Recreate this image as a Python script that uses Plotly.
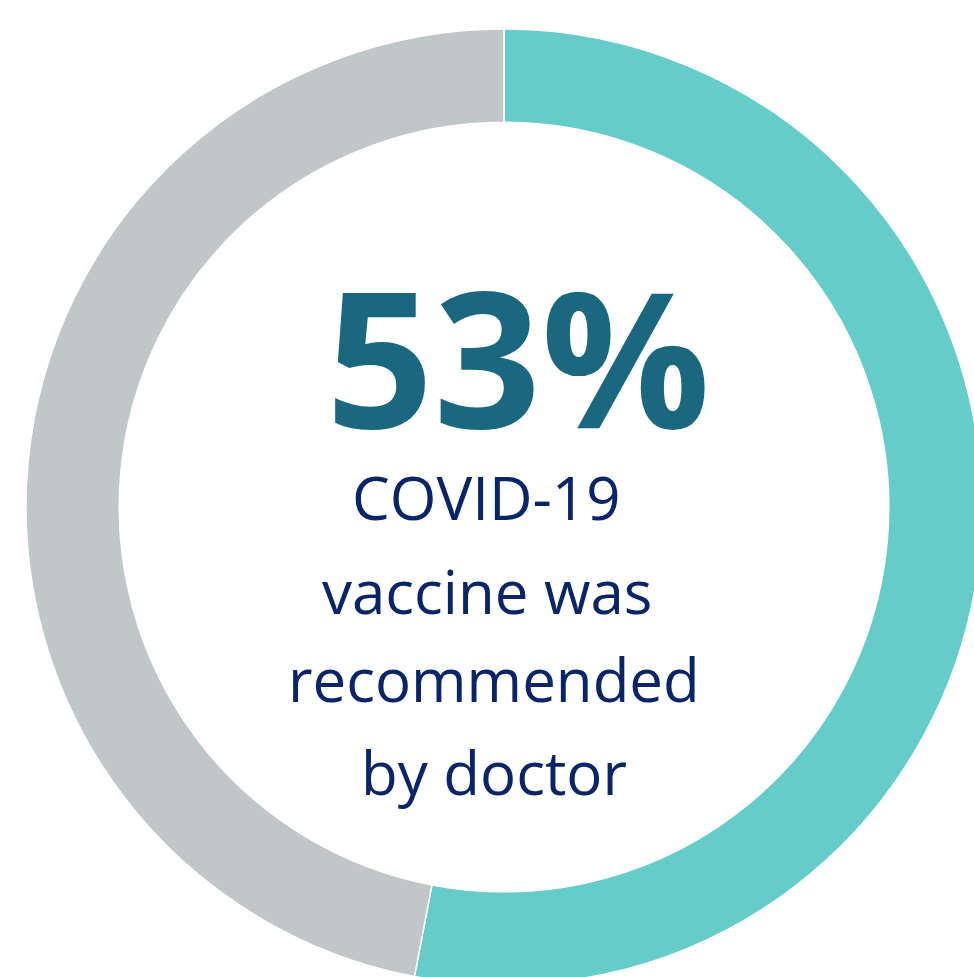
import plotly.graph_objects as go

labels = ["Recommended by doctor", "Not recommended"]
values = [53, 47]
colors = ["#66CCC9", "#C1C6C8"]
big_label = "53%"
sub_lines = ["COVID-19", "vaccine was", "recommended", "by doctor"]

W, H = 1008, 1014
fig = go.Figure(go.Pie(
    labels=labels, values=values, hole=0.805, sort=False, direction="clockwise",
    rotation=0, marker=dict(colors=colors, line=dict(color="white", width=1.5)),
    textinfo="none", hoverinfo="skip", showlegend=False,
))

fig.add_annotation(x=0.515, y=0.6595, xref="paper", yref="paper", text="<b>" + big_label + "</b>",
                   showarrow=False, font=dict(family="Open Sans", size=188, color="#1A687F"),
                   xanchor="center", yanchor="middle", height=175, valign="middle")
xs = [0.481, 0.482, 0.490, 0.490]
ys = [0.5107, 0.4121, 0.3197, 0.2232]
for t, x, y in zip(sub_lines, xs, ys):
    fig.add_annotation(x=x, y=y, xref="paper", yref="paper", text=t, showarrow=False,
                       font=dict(family="Open Sans", size=60, color="#0A2468"),
                       xanchor="center", yanchor="middle")

fig.update_layout(width=W, height=H, margin=dict(l=26, r=26, t=29, b=29),
                  paper_bgcolor="white", plot_bgcolor="white")
fig.write_html("out.html", config={"displayModeBar": False},
               post_script="document.body.style.margin='0';document.body.style.overflow='hidden';document.documentElement.style.overflow='hidden';")
